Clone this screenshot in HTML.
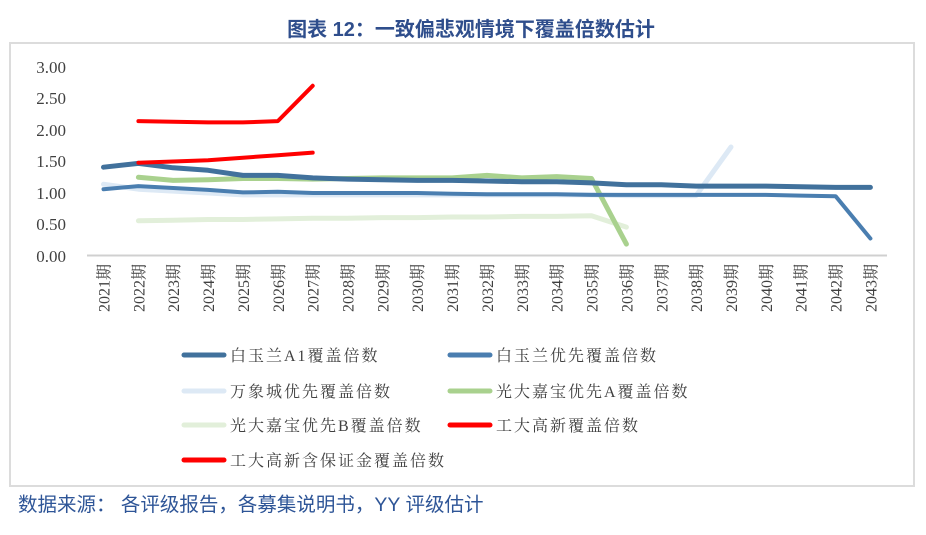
<!DOCTYPE html>
<html><head><meta charset="utf-8"><style>
body{margin:0;background:#fff;width:926px;height:530px;overflow:hidden;}
svg text{font-family:"Liberation Serif","Noto Serif CJK SC",serif;}
</style></head><body>
<svg width="926" height="530" xmlns="http://www.w3.org/2000/svg">
<text x="471" y="36" text-anchor="middle" font-size="20" font-weight="bold" fill="#2F4E8C" style="font-family:'Liberation Sans','Noto Sans CJK SC',sans-serif">图表 12：一致偏悲观情境下覆盖倍数估计</text>
<rect x="10" y="43" width="904" height="443" fill="none" stroke="#dcdcdc" stroke-width="2"/>
<g font-size="17" fill="#404040" text-anchor="end">
<text x="66" y="73">3.00</text><text x="66" y="104">2.50</text><text x="66" y="136">2.00</text>
<text x="66" y="167">1.50</text><text x="66" y="199">1.00</text>
<text x="66" y="230">0.50</text><text x="66" y="262">0.00</text>
</g>
<line x1="87" y1="255.5" x2="887" y2="255.5" stroke="#d0d0d0" stroke-width="2"/>
<g id="xl" font-size="16" fill="#404040" text-anchor="end"></g>
<g fill="none" stroke-linejoin="round" stroke-linecap="round">
<polyline id="s3" stroke="#DDE9F5" stroke-width="5"/>
<polyline id="s5" stroke="#E2EFDA" stroke-width="5"/>
<polyline id="s4" stroke="#A9D18E" stroke-width="5"/>
<polyline id="s2" stroke="#4A7EB0" stroke-width="4"/>
<polyline id="s1" stroke="#41719C" stroke-width="5"/>
<polyline id="s6" stroke="#FF0000" stroke-width="4"/>
<polyline id="s7" stroke="#FF0000" stroke-width="4"/>
</g>
<g font-size="16" fill="#404040" letter-spacing="2">
<line x1="184" y1="355" x2="224" y2="355" stroke="#41719C" stroke-width="5" stroke-linecap="round"/><text x="230" y="361">白玉兰A1覆盖倍数</text>
<line x1="450" y1="355" x2="490" y2="355" stroke="#4A7EB0" stroke-width="5" stroke-linecap="round"/><text x="496" y="361">白玉兰优先覆盖倍数</text>
<line x1="184" y1="391" x2="224" y2="391" stroke="#DDE9F5" stroke-width="5" stroke-linecap="round"/><text x="230" y="397">万象城优先覆盖倍数</text>
<line x1="450" y1="391" x2="490" y2="391" stroke="#A9D18E" stroke-width="5" stroke-linecap="round"/><text x="496" y="397">光大嘉宝优先A覆盖倍数</text>
<line x1="184" y1="425" x2="224" y2="425" stroke="#E2EFDA" stroke-width="5" stroke-linecap="round"/><text x="230" y="431">光大嘉宝优先B覆盖倍数</text>
<line x1="450" y1="425" x2="490" y2="425" stroke="#FF0000" stroke-width="5" stroke-linecap="round"/><text x="496" y="431">工大高新覆盖倍数</text>
<line x1="184" y1="460" x2="224" y2="460" stroke="#FF0000" stroke-width="5" stroke-linecap="round"/><text x="230" y="466">工大高新含保证金覆盖倍数</text>
</g>
<text x="18" y="511" font-size="19.5" fill="#2E5597" style="font-family:'Liberation Sans','Noto Sans CJK SC',sans-serif">数据来源：  各评级报告，各募集说明书，YY 评级估计</text>
</svg>
<script>
function X(i){return 103.5+i*34.86;}
function Y(v){return 255.5-63.1*v;}
function P(id,start,vals){document.getElementById(id).setAttribute('points',vals.map((v,k)=>X(start+k).toFixed(1)+','+Y(v).toFixed(1)).join(' '));}
P('s1',0,[1.40,1.46,1.39,1.35,1.27,1.27,1.23,1.21,1.20,1.19,1.19,1.18,1.17,1.17,1.15,1.12,1.12,1.10,1.10,1.10,1.09,1.08,1.08]);
P('s2',0,[1.05,1.10,1.07,1.04,1.00,1.01,0.99,0.99,0.99,0.99,0.98,0.97,0.97,0.97,0.96,0.96,0.96,0.96,0.96,0.96,0.95,0.94,0.27]);
P('s3',0,[1.13,1.05,1.02,0.99,0.96,0.96,0.96,0.96,0.96,0.96,0.96,0.96,0.96,0.96,0.96,0.95,0.95,0.95,1.72]);
P('s4',1,[1.24,1.19,1.20,1.22,1.22,1.21,1.22,1.23,1.23,1.23,1.27,1.23,1.25,1.22,0.18]);
P('s5',1,[0.55,0.56,0.57,0.57,0.58,0.59,0.59,0.60,0.60,0.61,0.61,0.62,0.62,0.63,0.45]);
P('s6',1,[2.13,2.12,2.11,2.11,2.13,2.69]);
P('s7',1,[1.47,1.49,1.51,1.55,1.59,1.63]);
var g=document.getElementById('xl'),h='';
for(var i=0;i<23;i++){var x=X(i)+6;h+='<text transform="translate('+x.toFixed(1)+',264) rotate(-90)">'+(2021+i)+'期</text>';}
g.innerHTML=h;
</script>
</body></html>
